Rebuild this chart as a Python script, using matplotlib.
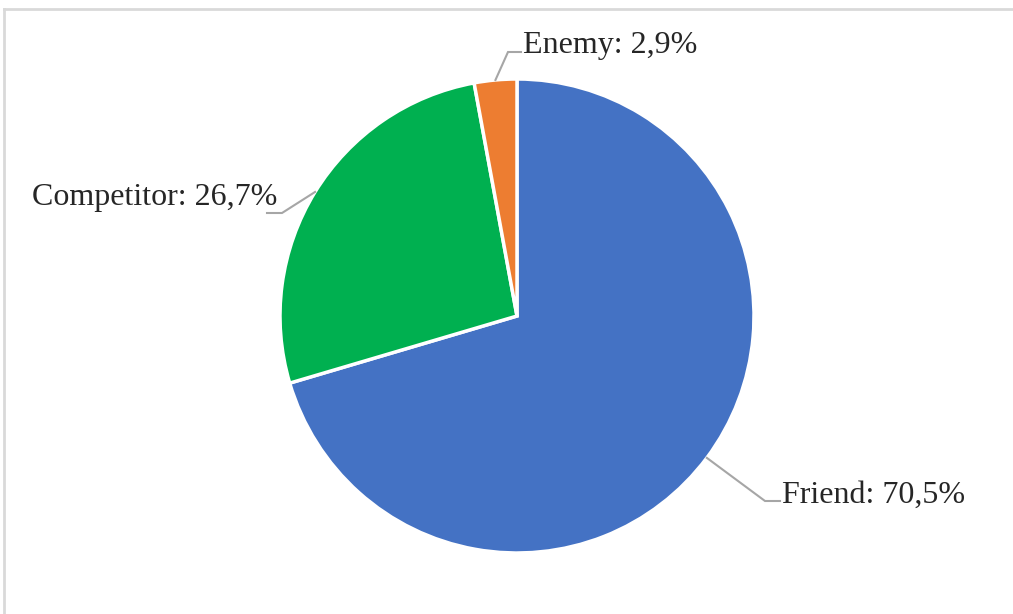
import numpy as np
import matplotlib
matplotlib.use("Agg")
import matplotlib.pyplot as plt

# relationship shares, percent
categories = ["Friend", "Competitor", "Enemy"]
shares = [70.5, 26.7, 2.9]
colors = ["#4472C4", "#00B050", "#ED7D31"]

W, H = 1013, 614
cx, cy, r = 517, H - 316, 237

plt.rcParams["font.family"] = ["Liberation Serif", "DejaVu Serif"]

fig = plt.figure(figsize=(W / 100, H / 100), dpi=100)
ax = fig.add_axes([0, 0, 1, 1])

wedges, _ = ax.pie(shares, colors=colors, startangle=90, counterclock=False,
                   center=(cx, cy), radius=r,
                   wedgeprops=dict(edgecolor="white", linewidth=2.5))
ax.set_xlim(0, W)
ax.set_ylim(0, H)
ax.set_aspect("equal")
ax.axis("off")

# leader line elbows, line ends and text anchors (pixel coords, y from top)
layout = {
    "Friend":     dict(elbow=(765, 501), end=(780, 501), text=(782, 503), ha="left"),
    "Competitor": dict(elbow=(282, 213), end=(267, 213), text=(277, 205), ha="right"),
    "Enemy":      dict(elbow=(508, 52), end=(521, 52), text=(523, 53), ha="left"),
}

for w, name, val in zip(wedges, categories, shares):
    mid = np.deg2rad((w.theta1 + w.theta2) / 2)
    sx, sy = cx + r * np.cos(mid), cy + r * np.sin(mid)
    lay = layout[name]
    ex, ey = lay["elbow"]
    fx, fy = lay["end"]
    ax.plot([sx, ex, fx], [sy, H - ey, H - fy], color="#a6a6a6", lw=1.5,
            solid_joinstyle="miter")
    tx, ty = lay["text"]
    label = f"{name}: " + f"{val:.1f}".replace(".", ",") + "%"
    ax.text(tx, H - ty, label, ha=lay["ha"], va="baseline", fontsize=23,
            color="#262626")

# chart area border (top and left edges only)
ax.plot([4, W], [H - 9, H - 9], color="#d9d9d9", lw=2, clip_on=False)
ax.plot([4, 4], [H - 9, 0], color="#d9d9d9", lw=2, clip_on=False)

fig.savefig("out.png", dpi=100, facecolor="white")
